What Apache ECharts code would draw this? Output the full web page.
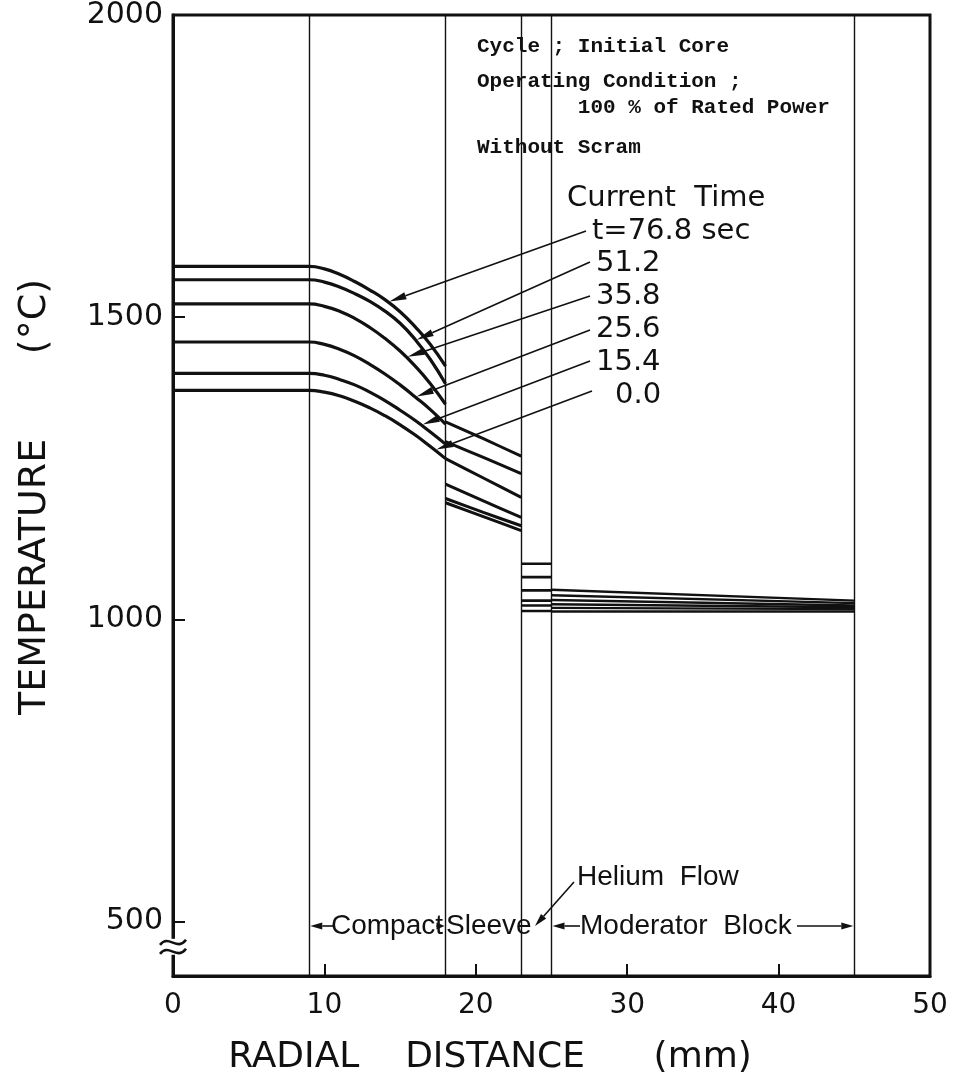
<!DOCTYPE html>
<html>
<head>
<meta charset="utf-8">
<script src="https://cdn.jsdelivr.net/npm/echarts@6/dist/echarts.min.js"></script>
<style>
  html, body { margin: 0; padding: 0; background: #fff; }
  #chart { width: 960px; height: 1084px; }
</style>
</head>
<body>
<div id="chart"></div>
<script>
// Radial temperature distribution across fuel compact, sleeve, helium gap and moderator block.

// Elapsed times (sec) of each profile, hottest first
const timeLabels = ['76.8', '51.2', '35.8', '25.6', '15.4', '0.0'];

// Fuel compact region: radial distance (mm) and temperature (deg C)
const compactRadius = [0, 5, 9, 10, 11, 12, 13, 14, 15, 16, 17, 18];
const compactTemp76_8 = [1584, 1584, 1584, 1580, 1571, 1559, 1545, 1529, 1509, 1484, 1455, 1419];
const compactTemp51_2 = [1562, 1562, 1562, 1558, 1550, 1539, 1526, 1510, 1490, 1463, 1430, 1390];
const compactTemp35_8 = [1522, 1522, 1522, 1518, 1510, 1498, 1483, 1465, 1444, 1419, 1390, 1356];
const compactTemp25_6 = [1459, 1459, 1459, 1455, 1447, 1436, 1422, 1406, 1388, 1368, 1347, 1323];
const compactTemp15_4 = [1407, 1407, 1407, 1404, 1397, 1388, 1376, 1362, 1346, 1329, 1310, 1290];
const compactTemp0_0  = [1379, 1379, 1379, 1376, 1370, 1361, 1350, 1337, 1322, 1305, 1286, 1266];

// Graphite sleeve
const sleeveRadius = [18, 20.5, 23];
const sleeveTemp76_8 = [1327, 1299, 1270];
const sleeveTemp51_2 = [1294, 1268, 1241];
const sleeveTemp35_8 = [1266, 1234, 1202];
const sleeveTemp25_6 = [1224, 1196, 1169];
const sleeveTemp15_4 = [1200, 1177, 1155];
const sleeveTemp0_0  = [1193, 1170, 1147];

// Helium coolant channel
const heliumRadius = [23, 25];
const heliumTemp = [1092, 1070, 1048, 1031, 1023, 1014];

// Moderator block
const blockRadius = [25, 45];
const blockTemp76_8 = [1049, 1031];
const blockTemp51_2 = [1040, 1027];
const blockTemp35_8 = [1032, 1023];
const blockTemp25_6 = [1025, 1020];
const blockTemp15_4 = [1019, 1017];
const blockTemp0_0  = [1013, 1013];

// Region boundaries (mm) and axis ticks
const boundaries = [9, 18, 23, 25, 45];
const yTickValues = [500, 1000, 1500, 2000];

const compactTemps = [compactTemp76_8, compactTemp51_2, compactTemp35_8, compactTemp25_6, compactTemp15_4, compactTemp0_0];
const sleeveTemps = [sleeveTemp76_8, sleeveTemp51_2, sleeveTemp35_8, sleeveTemp25_6, sleeveTemp15_4, sleeveTemp0_0];
const blockTemps = [blockTemp76_8, blockTemp51_2, blockTemp35_8, blockTemp25_6, blockTemp15_4, blockTemp0_0];

const zip = (xs, ys) => xs.map((x, i) => [x, ys[i]]);
const INK = '#111';
const axisFont = 'DejaVu Sans, sans-serif';

const series = [];
timeLabels.forEach((t, i) => {
  series.push({
    name: 't=' + t + ' compact', type: 'line', data: zip(compactRadius, compactTemps[i]),
    smooth: 0.5, showSymbol: false, silent: true,
    lineStyle: { color: INK, width: 3.2 }, z: 5
  });
  series.push({
    name: 't=' + t + ' sleeve', type: 'line', data: zip(sleeveRadius, sleeveTemps[i]),
    smooth: 0.3, showSymbol: false, silent: true,
    lineStyle: { color: INK, width: 3 }, z: 5
  });
  series.push({
    name: 't=' + t + ' helium', type: 'line', data: zip(heliumRadius, [heliumTemp[i], heliumTemp[i]]),
    showSymbol: false, silent: true,
    lineStyle: { color: INK, width: 2.6 }, z: 5
  });
  series.push({
    name: 't=' + t + ' block', type: 'line', data: zip(blockRadius, blockTemps[i]),
    showSymbol: false, silent: true,
    lineStyle: { color: INK, width: 2.4 }, z: 5
  });
});

// Region boundary lines
series[0].markLine = {
  silent: true, symbol: 'none', animation: false,
  label: { show: false },
  lineStyle: { color: INK, width: 1.4, type: 'solid' },
  data: boundaries.map(b => ({ xAxis: b }))
};

const chart = echarts.init(document.getElementById('chart'), null, { renderer: 'canvas' });

chart.setOption({
  animation: false,
  backgroundColor: '#fff',
  grid: {
    left: 173, right: 30, top: 12, bottom: 108,
    show: true, borderColor: INK, borderWidth: 3, backgroundColor: 'transparent'
  },
  xAxis: {
    type: 'value', min: 0, max: 50, interval: 10,
    axisLine: { show: true, lineStyle: { color: INK, width: 3 } },
    axisTick: { show: true, inside: true, length: 12, lineStyle: { color: INK, width: 2 } },
    axisLabel: { color: INK, fontSize: 28, fontFamily: axisFont, margin: 16 },
    splitLine: { show: false }
  },
  yAxis: {
    type: 'value', min: 410, max: 2000,
    axisLine: { show: true, lineStyle: { color: INK, width: 3 } },
    axisTick: { show: true, inside: true, length: 12, customValues: yTickValues, lineStyle: { color: INK, width: 2 } },
    axisLabel: {
      color: INK, fontSize: 30, fontFamily: axisFont, margin: 10, customValues: yTickValues,
      formatter: v => String(v)
    },
    splitLine: { show: false }
  },
  series: series
});

// ---------- Annotations ----------
const toPx = (x, y) => chart.convertToPixel({ gridIndex: 0 }, [x, y]);

function interp(xs, ys, x) {
  for (let i = 0; i < xs.length - 1; i++) {
    if (x >= xs[i] && x <= xs[i + 1]) {
      const f = (x - xs[i]) / (xs[i + 1] - xs[i]);
      return ys[i] + f * (ys[i + 1] - ys[i]);
    }
  }
  return ys[ys.length - 1];
}

function arrow(from, to, headLen, headHalf, width) {
  const dx = to[0] - from[0], dy = to[1] - from[1];
  const len = Math.hypot(dx, dy);
  const ux = dx / len, uy = dy / len;
  const bx = to[0] - ux * headLen, by = to[1] - uy * headLen;
  return [
    { type: 'line', silent: true, z: 20,
      shape: { x1: from[0], y1: from[1], x2: bx, y2: by },
      style: { stroke: INK, lineWidth: width } },
    { type: 'polygon', silent: true, z: 20,
      shape: { points: [to, [bx - uy * headHalf, by + ux * headHalf], [bx + uy * headHalf, by - ux * headHalf]] },
      style: { fill: INK } }
  ];
}

function text(str, x, y, font, opts) {
  return Object.assign({
    type: 'text', silent: true, z: 30, x: x, y: y,
    style: Object.assign({ text: str, font: font, fill: INK, align: 'left', verticalAlign: 'middle' }, (opts && opts.style) || {})
  }, (opts && opts.el) || {});
}

const monoFont = 'bold 21px "Liberation Mono", monospace';
const labelFont = '29px "DejaVu Sans", sans-serif';
const regionFont = '28px "Liberation Sans", sans-serif';
const titleFont = '36px "DejaVu Sans", sans-serif';

const graphics = [];

// Case description
graphics.push(text('Cycle ; Initial Core', 477, 47, monoFont));
graphics.push(text('Operating Condition ;', 477, 82, monoFont));
graphics.push(text('        100 % of Rated Power', 477, 108, monoFont));
graphics.push(text('Without Scram', 477, 148, monoFont));

// Time labels with leader arrows pointing at each compact profile
graphics.push(text('Current  Time', 567, 198, labelFont));
const timeText = ['t=76.8 sec', '51.2', '35.8', '25.6', '15.4', '0.0'];
const labelPos = [[592, 231], [596, 263], [596, 296], [596, 329], [596, 362], [615, 395]];
const leaderStart = [[586, 231], [590, 262], [590, 296], [590, 330], [590, 361], [592, 391]];
const leaderTipRadius = [14.3, 16.1, 15.5, 16.1, 16.5, 17.4];
timeText.forEach((s, i) => {
  graphics.push(text(s, labelPos[i][0], labelPos[i][1], labelFont));
  const r = leaderTipRadius[i];
  const tip = toPx(r, interp(compactRadius, compactTemps[i], r) + 3);
  graphics.push(...arrow(leaderStart[i], tip, 17, 3.6, 1.6));
});

// Region names along the bottom
graphics.push(text('Compact', 331, 926, regionFont));
graphics.push(text('Sleeve', 446, 926, regionFont));
graphics.push(text('Moderator  Block', 580, 926, regionFont));
graphics.push(text('Helium  Flow', 577, 877, regionFont));
const xb = boundaries.map(b => toPx(b, 1000)[0]);
graphics.push(...arrow([333, 926], [xb[0] + 1, 926], 12, 3.5, 1.6));
graphics.push(...arrow([436, 926], [xb[1] - 1, 926], 8, 3.5, 1.6));
graphics.push(...arrow([580, 926], [xb[3] + 1, 926], 12, 3.5, 1.6));
graphics.push(...arrow([797, 926], [xb[4] - 1, 926], 12, 3.5, 1.6));
graphics.push(...arrow([574, 882], [535, 926], 13, 3.5, 1.6));

// Axis titles
graphics.push(text('RADIAL    DISTANCE      (mm)', 490, 1058, titleFont, { style: { align: 'center' } }));
graphics.push(text('TEMPERATURE       (°C)', 35, 497, '38px "DejaVu Sans", sans-serif',
  { style: { align: 'center' }, el: { rotation: Math.PI / 2 } }));

// Axis break on the temperature scale
const brk = toPx(0, 455);
graphics.push({ type: 'rect', silent: true, z: 25,
  shape: { x: brk[0] - 6, y: brk[1] - 10, width: 12, height: 16 }, style: { fill: '#fff' } });
[-7, 2].forEach(off => {
  graphics.push({ type: 'bezierCurve', silent: true, z: 26,
    shape: { x1: brk[0] - 13, y1: brk[1] + off + 3, cpx1: brk[0] - 4, cpy1: brk[1] + off - 8,
             cpx2: brk[0] + 4, cpy2: brk[1] + off + 10, x2: brk[0] + 13, y2: brk[1] + off - 2 },
    style: { stroke: INK, lineWidth: 2.6, fill: null } });
});

chart.setOption({ graphic: graphics });
</script>
</body>
</html>
